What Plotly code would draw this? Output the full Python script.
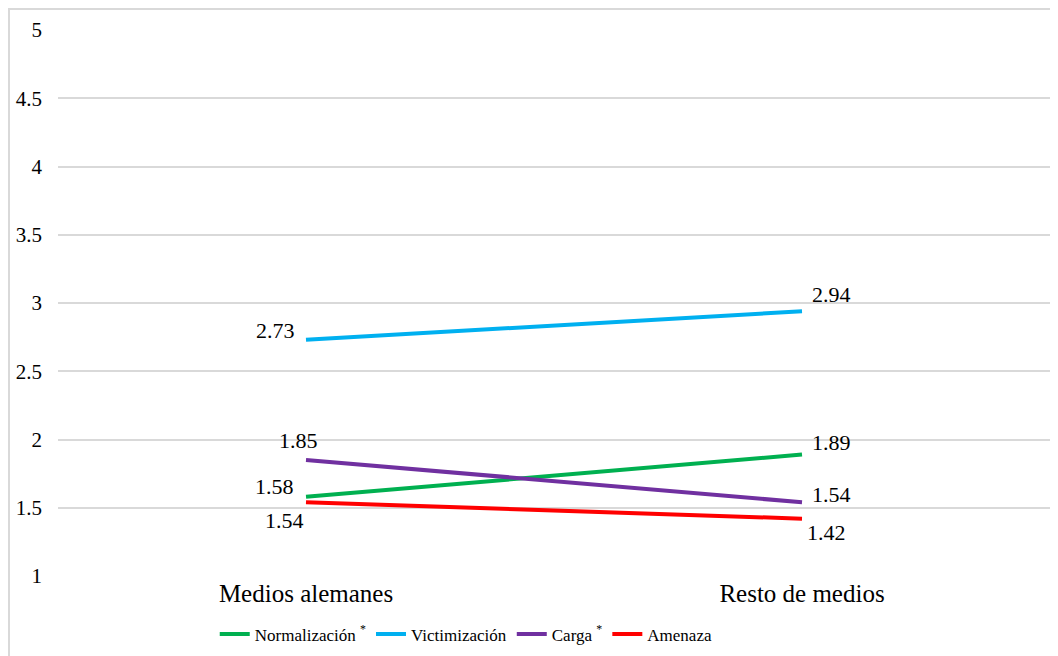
import plotly.graph_objects as go

categories = ["Medios alemanes", "Resto de medios"]
series_names = ["Normalización <sup>*</sup>", "Victimización", "Carga <sup>*</sup>", "Amenaza"]
normalizacion = [1.58, 1.89]
victimizacion = [2.73, 2.94]
carga = [1.85, 1.54]
amenaza = [1.54, 1.42]
y_ticks = [1, 1.5, 2, 2.5, 3, 3.5, 4, 4.5, 5]
y_tick_labels = ["1", "1.5", "2", "2.5", "3", "3.5", "4", "4.5", "5"]

colors = ["#00B050", "#00B0F0", "#7030A0", "#FF0000"]
values = [normalizacion, victimizacion, carga, amenaza]

# label placement style per series: (xanchor, xshift, yshift) for each category
label_style = [
    [("right", -10, 10), ("left", 8, 12)],
    [("right", -9, 9), ("left", 8, 17)],
    [("center", -8, 19), ("left", 8, 8)],
    [("right", 0, -18), ("left", 3, -14)],
]

FONT = "Times New Roman"

fig = go.Figure()
annotations = []
for name, vals, col, styles in zip(series_names, values, colors, label_style):
    fig.add_trace(go.Scatter(
        x=categories, y=vals, name=name, mode="lines",
        line=dict(color=col, width=4),
        cliponaxis=False, hoverinfo="skip",
    ))
    for cat, v, (xa, xs, ys) in zip(categories, vals, styles):
        annotations.append(dict(
            x=cat, y=v, xref="x", yref="y", text=f"{v:.2f}", showarrow=False,
            xanchor=xa, yanchor="middle", xshift=xs, yshift=ys,
            font=dict(family=FONT, size=22, color="#000000"),
        ))

fig.update_layout(
    width=1050, height=648,
    margin=dict(l=50, r=8, t=22, b=80, autoexpand=False),
    paper_bgcolor="white", plot_bgcolor="white",
    font=dict(family=FONT, color="#000000"),
    showlegend=True,
    legend=dict(orientation="h", x=0.158, xanchor="left", y=-0.074, yanchor="top",
                font=dict(family=FONT, size=17, color="#000000"),
                itemwidth=30, tracegroupgap=0),
    xaxis=dict(type="category", range=[-0.5, 1.5], showgrid=False, zeroline=False,
               showline=False, ticks="", tickfont=dict(family=FONT, size=25, color="#000000")),
    yaxis=dict(range=[1, 5], tickvals=y_ticks, ticktext=y_tick_labels,
               showgrid=True, gridcolor="#D9D9D9", gridwidth=1.5, zeroline=False,
               showline=False, ticks="", ticklabelstandoff=15,
               tickfont=dict(family=FONT, size=21, color="#000000")),
    annotations=annotations,
    shapes=[
        dict(type="line", xref="paper", yref="paper", x0=-0.0494, x1=-0.0494, y0=1.0385, y1=-0.2,
             line=dict(color="#D9D9D9", width=2)),
        dict(type="line", xref="paper", yref="paper", x0=-0.0504, x1=1.01, y0=1.0385, y1=1.0385,
             line=dict(color="#D9D9D9", width=2)),
    ],
)

fig.write_html("out.html")
